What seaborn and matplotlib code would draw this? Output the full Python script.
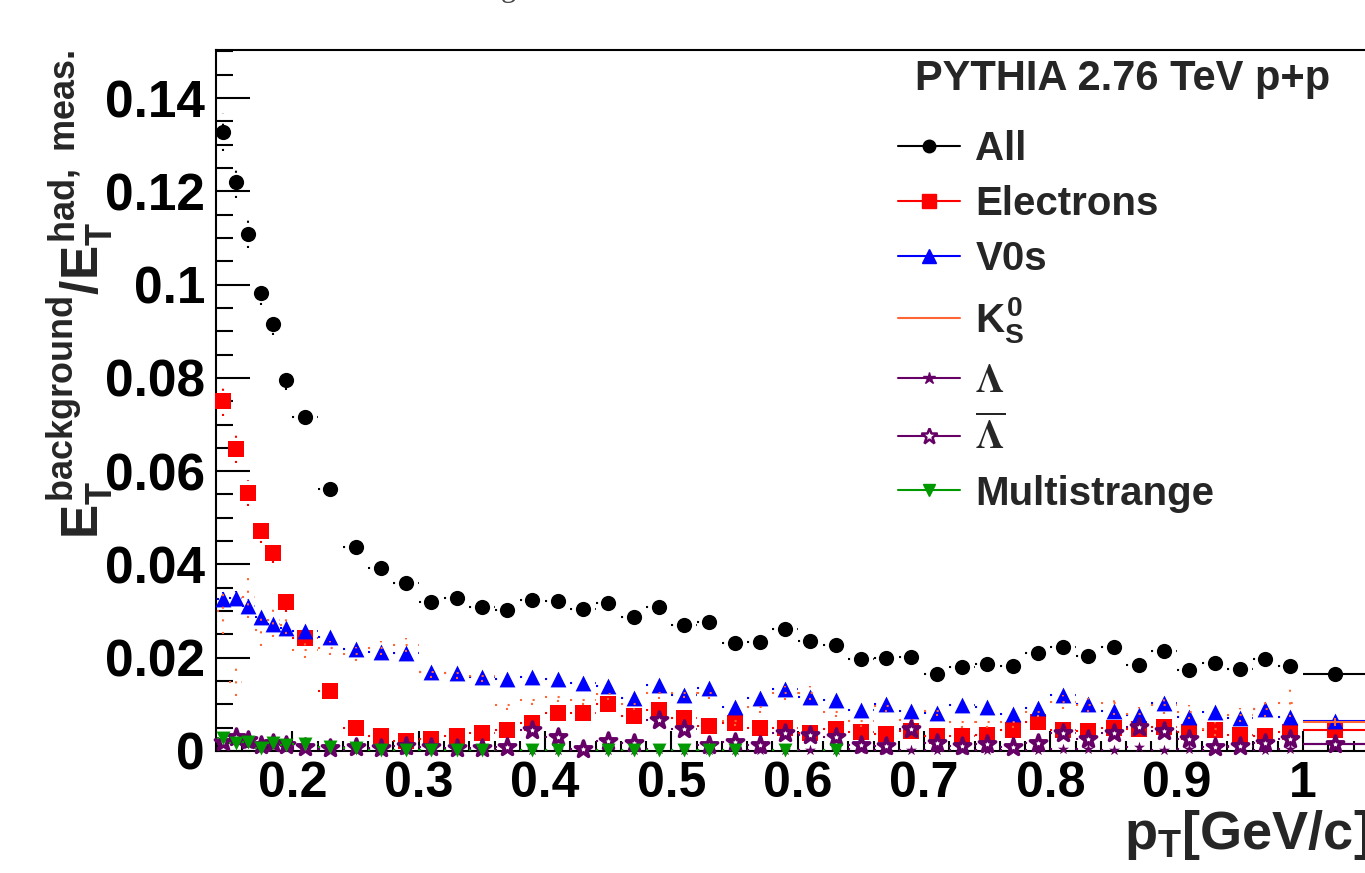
import numpy as np
import pandas as pd
import matplotlib
matplotlib.use("Agg")
import matplotlib.pyplot as plt
import seaborn as sns
from matplotlib.lines import Line2D
from matplotlib.ticker import MultipleLocator, FuncFormatter

sns.set_style("ticks")
plt.rcParams["font.family"] = ["Liberation Sans", "DejaVu Sans"]
plt.rcParams["font.weight"] = "bold"
plt.rcParams["axes.labelweight"] = "bold"
plt.rcParams["mathtext.fontset"] = "custom"
plt.rcParams["mathtext.rm"] = "Liberation Sans:bold"
plt.rcParams["mathtext.it"] = "Liberation Sans:bold"
plt.rcParams["mathtext.bf"] = "Liberation Sans:bold"
plt.rcParams["mathtext.sf"] = "Liberation Sans:bold"

# bin centres / half widths (GeV/c)
pt = [0.145, 0.155, 0.165, 0.175, 0.185, 0.195,
      0.21, 0.23, 0.25, 0.27, 0.29, 0.31, 0.33, 0.35, 0.37, 0.39,
      0.41, 0.43, 0.45, 0.47, 0.49, 0.51, 0.53, 0.55, 0.57, 0.59,
      0.61, 0.63, 0.65, 0.67, 0.69, 0.71, 0.73, 0.75, 0.77, 0.79,
      0.81, 0.83, 0.85, 0.87, 0.89, 0.91, 0.93, 0.95, 0.97, 0.99, 1.025]
pt_hw = [0.005] * 6 + [0.01] * 40 + [0.025]

all_frac = [0.1327, 0.1220, 0.1108, 0.0982, 0.0915, 0.0795, 0.0716, 0.0562, 0.0437, 0.0392,
            0.0360, 0.0320, 0.0328, 0.0309, 0.0302, 0.0324, 0.0322, 0.0304, 0.0317, 0.0287,
            0.0309, 0.0270, 0.0277, 0.0232, 0.0234, 0.0262, 0.0236, 0.0227, 0.0197, 0.0199,
            0.0201, 0.0165, 0.0180, 0.0187, 0.0182, 0.0210, 0.0223, 0.0204, 0.0223, 0.0184,
            0.0214, 0.0174, 0.0189, 0.0176, 0.0197, 0.0182, 0.0165]
all_err = [0.0040, 0.0035, 0.0030, 0.0026, 0.0024, 0.0020, 0.0016, 0.0014, 0.0012, 0.0011,
           0.0010, 0.0010, 0.0010, 0.0009, 0.0009, 0.0009, 0.0009, 0.0009, 0.0009, 0.0008,
           0.0008, 0.0008, 0.0008, 0.0008, 0.0008, 0.0008, 0.0008, 0.0008, 0.0008, 0.0008,
           0.0008, 0.0008, 0.0008, 0.0008, 0.0008, 0.0008, 0.0008, 0.0008, 0.0008, 0.0008,
           0.0008, 0.0008, 0.0008, 0.0008, 0.0008, 0.0008, 0.0006]

ele_frac = [0.0750, 0.0647, 0.0553, 0.0472, 0.0425, 0.0319, 0.0242, 0.0129, 0.0049, 0.0032,
            0.0021, 0.0025, 0.0032, 0.0039, 0.0046, 0.0061, 0.0082, 0.0082, 0.0101, 0.0075,
            0.0088, 0.0071, 0.0054, 0.0060, 0.0049, 0.0049, 0.0039, 0.0047, 0.0041, 0.0037,
            0.0042, 0.0032, 0.0032, 0.0035, 0.0046, 0.0062, 0.0046, 0.0043, 0.0050, 0.0048,
            0.0051, 0.0041, 0.0046, 0.0034, 0.0032, 0.0041, 0.0044]
ele_err = [0.0032, 0.0030, 0.0028, 0.0025, 0.0022, 0.0020, 0.0016, 0.0012, 0.0009, 0.0008,
           0.0007, 0.0007, 0.0007, 0.0008, 0.0008, 0.0009, 0.0010, 0.0010, 0.0011, 0.0010,
           0.0010, 0.0009, 0.0009, 0.0009, 0.0009, 0.0009, 0.0008, 0.0009, 0.0008, 0.0008,
           0.0008, 0.0008, 0.0008, 0.0008, 0.0009, 0.0010, 0.0009, 0.0009, 0.0009, 0.0009,
           0.0010, 0.0009, 0.0009, 0.0008, 0.0008, 0.0009, 0.0006]

v0_frac = [0.0326, 0.0328, 0.0311, 0.0287, 0.0272, 0.0264, 0.0257, 0.0244, 0.0219, 0.0212,
           0.0210, 0.0170, 0.0167, 0.0159, 0.0154, 0.0159, 0.0154, 0.0145, 0.0139, 0.0114,
           0.0141, 0.0119, 0.0135, 0.0094, 0.0114, 0.0133, 0.0116, 0.0109, 0.0088, 0.0101,
           0.0086, 0.0081, 0.0099, 0.0094, 0.0079, 0.0092, 0.0120, 0.0101, 0.0086, 0.0077,
           0.0103, 0.0073, 0.0084, 0.0071, 0.0090, 0.0073, 0.0064]
v0_err = [0.0015, 0.0015, 0.0014, 0.0013, 0.0012, 0.0012, 0.0010, 0.0010, 0.0009, 0.0009,
          0.0009, 0.0008, 0.0008, 0.0008, 0.0008, 0.0008, 0.0008, 0.0008, 0.0008, 0.0008,
          0.0008, 0.0008, 0.0008, 0.0008, 0.0008, 0.0008, 0.0008, 0.0008, 0.0008, 0.0008,
          0.0008, 0.0008, 0.0008, 0.0008, 0.0008, 0.0008, 0.0008, 0.0008, 0.0008, 0.0008,
          0.0008, 0.0008, 0.0008, 0.0008, 0.0008, 0.0008, 0.0006]

k0s_frac = [0.0300, 0.0148, 0.0330, 0.0260, 0.0280, 0.0270, 0.0217, 0.0220, 0.0208, 0.0220,
            0.0227, 0.0169, 0.0167, 0.0160, 0.0099, 0.0110, 0.0116, 0.0110, 0.0122, 0.0100,
            0.0124, 0.0125, 0.0124, 0.0065, 0.0094, 0.0124, 0.0124, 0.0084, 0.0064, 0.0096,
            0.0066, 0.0086, 0.0062, 0.0062, 0.0062, 0.0084, 0.0105, 0.0099, 0.0103, 0.0079,
            0.0099, 0.0084, 0.0047, 0.0077, 0.0090, 0.0103, 0.0062]
k0s_err = [0.0050, 0.0030, 0.0045, 0.0035, 0.0035, 0.0020, 0.0018, 0.0015, 0.0015, 0.0015,
           0.0015, 0.0012, 0.0012, 0.0012, 0.0012, 0.0012, 0.0012, 0.0012, 0.0012, 0.0012,
           0.0012, 0.0012, 0.0012, 0.0012, 0.0012, 0.0015, 0.0015, 0.0012, 0.0012, 0.0012,
           0.0012, 0.0012, 0.0012, 0.0012, 0.0012, 0.0012, 0.0015, 0.0015, 0.0025, 0.0015,
           0.0020, 0.0015, 0.0015, 0.0015, 0.0018, 0.0030, 0.0008]

lam_frac = [0.0015, 0.0025, 0.0015, 0.0010, 0.0012, 0.0010, 0.0005, 0.0004, 0.0003, 0.0004,
            0.0003, 0.0003, 0.0002, 0.0003, 0.0002, 0.0003, 0.0002, 0.0002, 0.0003, 0.0003,
            0.0004, 0.0003, 0.0002, 0.0003, 0.0003, 0.0002, 0.0003, 0.0002, 0.0004, 0.0002,
            0.0003, 0.0002, 0.0003, 0.0002, 0.0003, 0.0002, 0.0004, 0.0004, 0.0003, 0.0009,
            0.0003, 0.0004, 0.0003, 0.0009, 0.0003, 0.0004, 0.0015]
lam_err = [0.0008] * 6 + [0.0005] * 40 + [0.0003]

alam_frac = [0.0020, 0.0030, 0.0024, 0.0013, 0.0017, 0.0013, 0.0009, 0.0006, 0.0009, 0.0007,
             0.0010, 0.0008, 0.0006, 0.0006, 0.0009, 0.0045, 0.0030, 0.0004, 0.0021, 0.0017,
             0.0066, 0.0047, 0.0012, 0.0019, 0.0013, 0.0039, 0.0034, 0.0030, 0.0013, 0.0010,
             0.0047, 0.0017, 0.0010, 0.0015, 0.0008, 0.0017, 0.0038, 0.0026, 0.0039, 0.0051,
             0.0043, 0.0026, 0.0009, 0.0010, 0.0017, 0.0026, 0.0015]
alam_err = [0.0008] * 6 + [0.0007] * 40 + [0.0003]

ms_frac = [0.0028, 0.0017, 0.0020, 0.0006, 0.0017, 0.0013, 0.0015, 0.0009, 0.0007, 0.0002,
           0.0003, 0.0003, 0.0003, 0.0003, np.nan, 0.0003, 0.0003, np.nan, 0.0003, 0.0003,
           0.0003, 0.0003, 0.0003, 0.0003, np.nan, 0.0003, np.nan, 0.0003, np.nan, np.nan,
           np.nan, np.nan, np.nan, np.nan, np.nan, np.nan, np.nan, np.nan, np.nan, np.nan,
           np.nan, np.nan, np.nan, np.nan, np.nan, np.nan, np.nan]
ms_err = [0.0006] * 6 + [0.0003] * 41

BLACK, RED, BLUE = "#000000", "#ff0000", "#0000ff"
ORANGE, PURPLE, GREEN = "#ff6633", "#660066", "#009900"
DOT = (0, (1.0, 5.05))

# label, values, errors, colour, marker, size, face, edge width
series = [
    ("All", all_frac, all_err, BLACK, "o", 120, None, 0),
    ("Electrons", ele_frac, ele_err, RED, "s", 120, None, 0),
    ("V0s", v0_frac, v0_err, BLUE, "^", 130, None, 0),
    ("K0s", k0s_frac, k0s_err, ORANGE, None, 0, None, 0),
    ("Lambda", lam_frac, lam_err, PURPLE, "*", 70, None, 0),
    ("AntiLambda", alam_frac, alam_err, PURPLE, "*", 150, "white", 2.6),
    ("Multistrange", ms_frac, ms_err, GREEN, "v", 100, None, 0),
]

fig = plt.figure(figsize=(13.65, 8.73), dpi=100)
ax = fig.add_axes([216 / 1365, 1 - 751 / 873, 1 - 216 / 1365, (751 - 50) / 873])

for i, (name, vals, errs, col, mk, size, face, ew) in enumerate(series):
    df = pd.DataFrame({"pt": pt, "hw": pt_hw, "val": vals, "err": errs}).dropna()
    eb = ax.errorbar(df["pt"], df["val"], xerr=df["hw"], yerr=df["err"], fmt="none",
                     ecolor=col, elinewidth=1.5, capsize=0, zorder=3 + i)
    styles = [DOT] * len(df)
    if df["pt"].iloc[-1] > 1.0:
        styles[-1] = "solid"
    for coll in eb[2]:
        coll.set_linestyle(styles)
    if mk is None:
        continue
    kw = dict(marker=mk, s=size, color=col, edgecolor=col, linewidth=ew)
    if face is not None:
        kw["facecolors"] = face
    sns.scatterplot(data=df, x="pt", y="val", ax=ax, zorder=3.5 + i, clip_on=False,
                    legend=False, **kw)

ax.set_xlim(0.1395, 1.049)
ax.set_ylim(0, 0.1503)
ax.xaxis.set_major_locator(MultipleLocator(0.1))
ax.xaxis.set_minor_locator(MultipleLocator(0.02))
ax.yaxis.set_major_locator(MultipleLocator(0.02))
ax.yaxis.set_minor_locator(MultipleLocator(0.005))
fmt = FuncFormatter(lambda v, p: "0" if abs(v) < 1e-9 else f"{v:g}")
ax.xaxis.set_major_formatter(fmt)
ax.yaxis.set_major_formatter(fmt)
ax.tick_params(axis="y", which="major", direction="in", length=24.5, width=1.5,
               labelsize=37, pad=8, color="black", labelcolor="black")
ax.tick_params(axis="y", which="minor", direction="in", length=12, width=1.5, color="black")
ax.tick_params(axis="x", which="major", direction="in", length=14.4, width=1.5,
               labelsize=36, pad=7, color="black", labelcolor="black")
ax.tick_params(axis="x", which="minor", direction="in", length=7.2, width=1.5, color="black")
ax.tick_params(top=False, right=False, which="both")
for side in ["left", "bottom", "top"]:
    ax.spines[side].set_linewidth(1.5)
    ax.spines[side].set_color("black")
ax.spines["right"].set_visible(False)

ax.set_ylabel(r"$E_T^{background}/E_T^{had,\ meas.}$", fontsize=37, loc="top")
ax.yaxis.set_label_coords(-0.088, 1.0)
ax.set_xlabel(r"$p_T$[GeV/c]", fontsize=39, fontweight="bold", loc="right")
ax.xaxis.set_label_coords(1.004, -0.082)

handles = [
    Line2D([], [], color=BLACK, lw=1.5, marker="o", ms=9),
    Line2D([], [], color=RED, lw=1.5, marker="s", ms=10),
    Line2D([], [], color=BLUE, lw=1.5, marker="^", ms=10),
    Line2D([], [], color=ORANGE, lw=1.5),
    Line2D([], [], color=PURPLE, lw=1.5, marker="*", ms=9),
    Line2D([], [], color=PURPLE, lw=1.5, marker="*", ms=12, mfc="white", mew=1.8),
    Line2D([], [], color=GREEN, lw=1.5, marker="v", ms=9),
]
labels = ["All", "Electrons", "V0s", r"$K_S^0$", r"$\Lambda$", r"$\overline{\Lambda}$",
          "Multistrange"]
leg = ax.legend(handles, labels, loc="upper left", bbox_to_anchor=(898 / 1365, 1 - 130 / 873),
                bbox_transform=fig.transFigure, frameon=False, fontsize=29,
                handlelength=1.55, handletextpad=0.37, labelspacing=0.42,
                borderpad=0, borderaxespad=0, numpoints=1)
for t in leg.get_texts()[4:6]:
    t.set_math_fontfamily("stix")
    t.set_fontweight("normal")

fig.text(915 / 1365, 1 - 79 / 873, "PYTHIA 2.76 TeV p+p", fontsize=30, weight="bold",
         va="center", ha="left")
fig.text(508 / 1365, 1 + 4 / 873, "g", fontsize=22, family="Liberation Serif",
         weight="normal", ha="center", va="baseline", color="#444444")

fig.savefig("out.png", dpi=100)
